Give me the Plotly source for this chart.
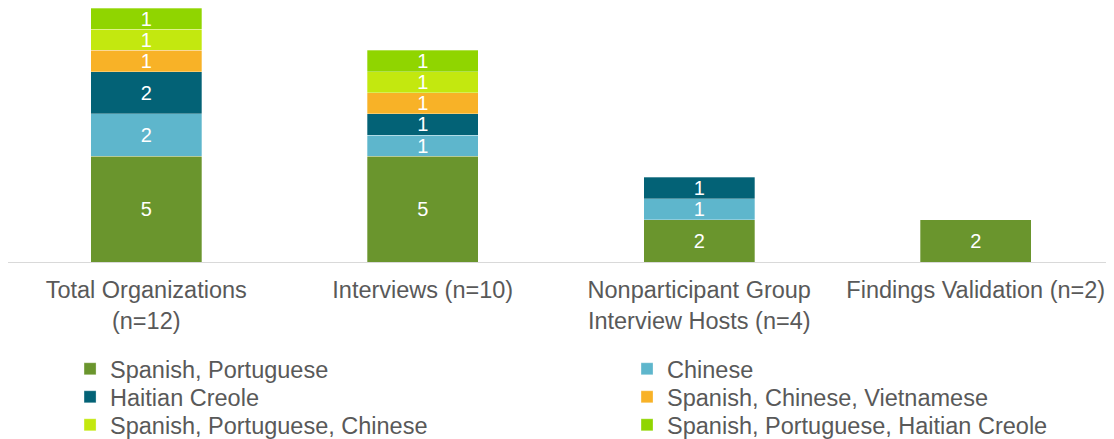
import plotly.graph_objects as go

categories = ["Total Organizations<br>(n=12)", "Interviews (n=10)",
              "Nonparticipant Group<br>Interview Hosts (n=4)", "Findings Validation (n=2)"]
series_names = ["Spanish, Portuguese", "Chinese", "Haitian Creole",
                "Spanish, Chinese, Vietnamese", "Spanish, Portuguese, Chinese",
                "Spanish, Portuguese, Haitian Creole"]
spanish_portuguese = [5, 5, 2, 2]
chinese = [2, 1, 1, None]
haitian_creole = [2, 1, 1, None]
spanish_chinese_vietnamese = [1, 1, None, None]
spanish_portuguese_chinese = [1, 1, None, None]
spanish_portuguese_haitian = [1, 1, None, None]
colors = ["#6A952D", "#5EB6CC", "#036276", "#F8B227", "#C3E80F", "#90D500"]

values = [spanish_portuguese, chinese, haitian_creole,
          spanish_chinese_vietnamese, spanish_portuguese_chinese, spanish_portuguese_haitian]

FONT = "Liberation Sans, Arial"
W, H = 1106, 431  # page body has an 8px margin
legend_ids = ["legend", "legend2", "legend3", "legend4", "legend5", "legend6"]
col_x = [0.0561, 0.5597]
row_y = [0.2135, 0.1485, 0.0835]

fig = go.Figure()
for i, (name, vals, col) in enumerate(zip(series_names, values, colors)):
    fig.add_trace(go.Bar(
        x=categories, y=vals, name=name, legend=legend_ids[i],
        marker=dict(color=col, line=dict(color="rgba(255,255,255,0.6)", width=0.5)),
        text=[str(v) if v else "" for v in vals],
        textposition="inside", insidetextanchor="middle", textangle=0,
        textfont=dict(color="white", size=20, family=FONT),
        width=0.4,
    ))

legend_layout = {}
for i, lid in enumerate(legend_ids):
    legend_layout[lid] = dict(
        orientation="v", xanchor="left", yanchor="top",
        xref="container", yref="container",
        x=col_x[i % 2], y=row_y[i // 2],
        font=dict(size=23.5, color="#595959", family=FONT),
        bgcolor="rgba(0,0,0,0)")

fig.update_layout(
    barmode="stack",
    width=W, height=H,
    margin=dict(l=0, r=0, t=0, b=177, autoexpand=False),
    paper_bgcolor="white", plot_bgcolor="white",
    font=dict(family=FONT, color="#595959", size=23.5),
    uniformtext=dict(minsize=20, mode="show"),
    xaxis=dict(showline=True, linecolor="#D9D9D9", linewidth=1, ticks="",
               ticklabelstandoff=7,
               tickfont=dict(size=23.5, color="#595959")),
    yaxis=dict(range=[0, 12], visible=False, showgrid=False),
    showlegend=True,
    **legend_layout,
)
fig.write_html("out.html")
